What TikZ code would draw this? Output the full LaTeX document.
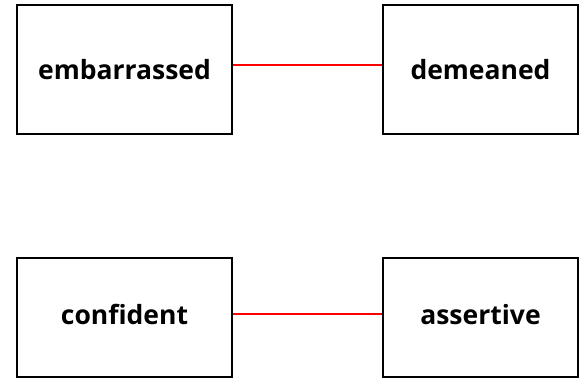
\documentclass[tikz,border=0pt]{standalone}
\usepackage{fontspec}
\newfontfamily\wordfont{Open Sans}
\begin{document}
\begin{tikzpicture}[x=1pt,y=-1pt,
  wordbox/.style={draw=black,line width=2.7pt,fill=white,inner sep=0pt},
  word/.style={inner sep=0pt,font=\wordfont\bfseries\fontsize{26.5}{32}\selectfont},
  link/.style={draw=red,line width=1.3pt}]
\useasboundingbox (0,0) rectangle (587,378);
\node[wordbox,minimum width=215pt,minimum height=129pt] (a) at (124.5,69.5) {};
\node[wordbox,minimum width=195pt,minimum height=129pt] (b) at (480.5,69.5) {};
\node[wordbox,minimum width=215pt,minimum height=119pt] (c) at (124.5,317.5) {};
\node[wordbox,minimum width=195pt,minimum height=119pt] (d) at (480.5,317.5) {};
\node[word] (ta) at (a) {embarrassed};
\node[word] (tb) at (b) {demeaned};
\node[word] (tc) at ([yshift=3pt]c.center) {confident};
\node[word] (td) at ([yshift=3pt]d.center) {assertive};
\draw[link] ([yshift=4.5pt]a.east) -- ([yshift=4.5pt]b.west);
\draw[link] ([yshift=3.5pt]c.east) -- ([yshift=3.5pt]d.west);
\end{tikzpicture}
\end{document}
